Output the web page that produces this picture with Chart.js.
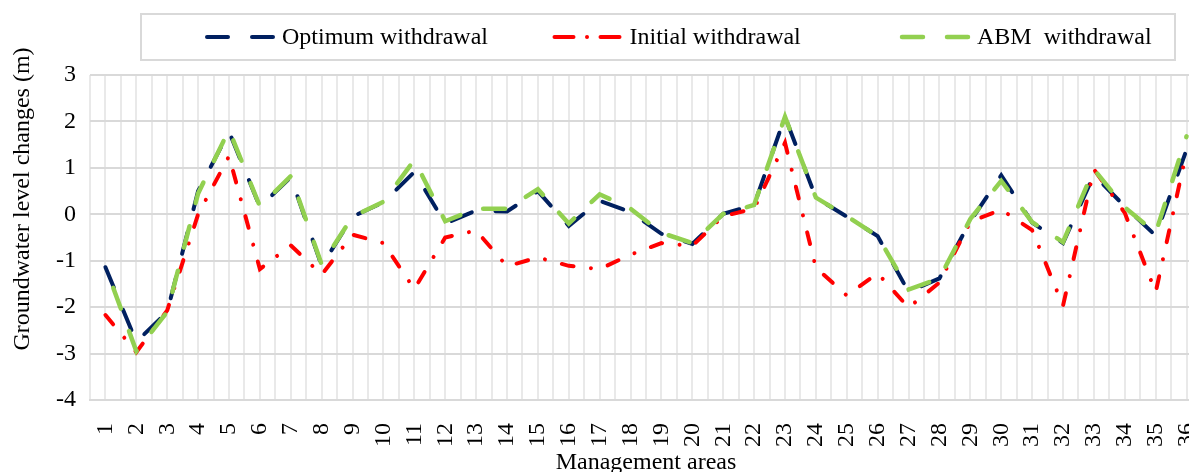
<!DOCTYPE html>
<html>
<head>
<meta charset="utf-8">
<title>Groundwater level changes</title>
<script src="https://cdn.jsdelivr.net/npm/chart.js@4.4.1/dist/chart.umd.min.js"></script>
<style>
    html, body { margin: 0; padding: 0; background: #fff; overflow: hidden; }
    #wrap { width: 1189px; height: 472px; overflow: hidden; }
    canvas { display: block; }
</style>
</head>
<body>
<div id="wrap"><canvas id="levelChart" width="1206" height="480"></canvas></div>
<script>
// management areas on the x axis
const categories = ['1', '2', '3', '4', '5', '6', '7', '8', '9', '10', '11', '12',
    '13', '14', '15', '16', '17', '18', '19', '20', '21', '22', '23', '24',
    '25', '26', '27', '28', '29', '30', '31', '32', '33', '34', '35', '36'];

// groundwater level changes (m)
const optimumValues = [-1.14, -2.75, -2.1, 0.5, 1.78, 0.16, 0.8, -1.11, -0.05, 0.26, 0.91, -0.2,
    0.08, 0.06, 0.5, -0.25, 0.29, 0.05, -0.42, -0.64, 0.01, 0.2, 2.1, 0.36,
    -0.05, -0.47, -1.67, -1.38, -0.15, 0.84, -0.18, -0.62, 0.85, 0.17, -0.46, 1.39];
const initialValues = [-2.17, -2.97, -2.07, 0.0, 1.25, -1.18, -0.67, -1.3, -0.44, -0.62, -1.61, -0.5,
    -0.35, -1.12, -0.93, -1.11, -1.18, -0.87, -0.62, -0.68, -0.04, 0.12, 1.54, -1.15,
    -1.75, -1.27, -2.01, -1.47, -0.16, 0.1, -0.34, -1.97, 0.97, 0.03, -1.68, 1.35];
const abmValues = [-1.12, -2.95, -2.1, 0.45, 1.82, 0.17, 0.82, -1.08, -0.05, 0.27, 1.17, -0.15,
    0.12, 0.12, 0.54, -0.2, 0.43, 0.12, -0.4, -0.62, 0.01, 0.2, 2.1, 0.36,
    -0.04, -0.47, -1.62, -1.38, -0.1, 0.72, -0.17, -0.6, 0.97, 0.15, -0.4, 1.68];

// y axis tick values
const yTicks = [-4, -3, -2, -1, 0, 1, 2, 3];
const yTitle = 'Groundwater level changes (m)';

const serif = "'Liberation Serif', 'Times New Roman', serif";

const toPoints = (values) => values.map((v, i) => ({ x: i + 1, y: v }));

// legend in a grey frame above the plot, plus the y axis title
// (the title sits higher than the plot centre in the original)
const legendBox = {
    id: 'legendBox',
    afterDraw(chart) {
        const ctx = chart.ctx;
        ctx.save();
        ctx.strokeStyle = '#d9d9d9';
        ctx.lineWidth = 2;
        ctx.setLineDash([]);
        ctx.strokeRect(141, 14, 1034, 46);

        ctx.font = '24px ' + serif;
        ctx.textBaseline = 'middle';
        chart.data.datasets.forEach((ds, i) => {
            const x = 205 + i * 347.5;
            const y = 37;
            ctx.beginPath();
            ctx.strokeStyle = ds.borderColor;
            ctx.lineWidth = ds.borderWidth;
            ctx.lineCap = 'round';
            ctx.setLineDash(ds.legendDash);
            ctx.moveTo(x + 2, y);
            ctx.lineTo(x + 68, y);
            ctx.stroke();
            ctx.fillStyle = '#000';
            ctx.fillText(ds.label, x + 77, y + 1);
        });

        ctx.translate(23, 199);
        ctx.rotate(-Math.PI / 2);
        ctx.textAlign = 'center';
        ctx.fillStyle = '#000';
        ctx.fillText(yTitle, 0, 0);
        ctx.restore();
    }
};

new Chart(document.getElementById('levelChart'), {
    type: 'line',
    data: {
        datasets: [
            {
                label: 'Optimum withdrawal',
                data: toPoints(optimumValues),
                borderColor: '#002060',
                borderWidth: 4,
                borderDash: [22, 24],
                borderCapStyle: 'round',
                legendDash: [21, 24],
                order: 3
            },
            {
                label: 'Initial withdrawal',
                data: toPoints(initialValues),
                borderColor: '#ff0000',
                borderWidth: 4,
                borderDash: [12, 17.5, 0.01, 17.5],
                borderCapStyle: 'round',
                legendDash: [19, 13.5, 0.01, 13.5],
                order: 2
            },
            {
                label: 'ABM  withdrawal',
                data: toPoints(abmValues),
                borderColor: '#92d050',
                borderWidth: 4.5,
                borderDash: [22, 24],
                borderDashOffset: 23,
                borderCapStyle: 'round',
                legendDash: [21, 24],
                order: 1
            }
        ]
    },
    options: {
        responsive: false,
        animation: false,
        layout: { padding: { top: 75, right: 4, left: 0, bottom: 0 } },
        elements: {
            point: { radius: 0 },
            line: { tension: 0, fill: false }
        },
        plugins: {
            legend: { display: false },
            tooltip: { enabled: false }
        },
        scales: {
            x: {
                type: 'linear',
                min: 0.5,
                max: categories.length + 0.5,
                afterFit: (scale) => {
                    scale.height = 80;
                    scale.paddingLeft = 0;
                    scale.paddingRight = 0;
                },
                ticks: {
                    stepSize: 0.5,
                    autoSkip: false,
                    minRotation: 90,
                    maxRotation: 90,
                    padding: 23,
                    color: '#000',
                    font: { family: serif, size: 24 },
                    callback: (value) => Number.isInteger(value) ? categories[value - 1] : ''
                },
                grid: { color: '#e9e9e9', lineWidth: 2, drawTicks: false },
                border: { display: true, color: '#d9d9d9', width: 2 },
                title: {
                    display: true,
                    text: 'Management areas',
                    color: '#000',
                    font: { family: serif, size: 24 },
                    padding: { top: 0, bottom: 3 }
                }
            },
            y: {
                min: yTicks[0],
                max: yTicks[yTicks.length - 1],
                afterFit: (scale) => {
                    scale.width = 90;
                },
                ticks: {
                    stepSize: 1,
                    padding: 14,
                    color: '#000',
                    font: { family: serif, size: 24 }
                },
                grid: { color: '#d9d9d9', lineWidth: 2, drawTicks: false },
                border: { display: false }
            }
        }
    },
    plugins: [legendBox]
});
</script>
</body>
</html>
